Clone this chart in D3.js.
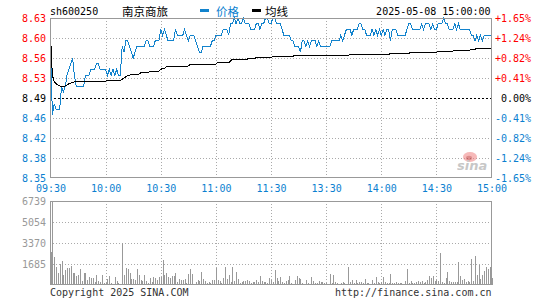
<!DOCTYPE html>
<html>
<head>
<meta charset="utf-8">
<script src="https://cdn.jsdelivr.net/npm/d3@7"></script>
<style>
body{margin:0;background:#fff}
svg{display:block}
</style>
</head>
<body>
<svg id="chart"></svg>
<script>
const stockCode = "sh600250";
const stockName = "南京商旅";
const dateTime = "2025-05-08 15:00:00";
const legendNames = ["价格", "均线"];

const timeLabels = ["09:30","10:00","10:30","11:00","11:30","13:30","14:00","14:30","15:00"];
const timeIndex = [0,30,60,90,120,150,180,210,240];
const priceLevels = [8.63,8.595,8.56,8.525,8.49,8.455,8.42,8.385,8.35];
const priceTicks = ["8.63","8.60","8.56","8.53","8.49","8.46","8.42","8.38","8.35"];
const pctTicks = ["+1.65%","+1.24%","+0.82%","+0.41%","0.00%","-0.41%","-0.82%","-1.24%","-1.65%"];
const volLevels = [6739,5054,3370,1685];
const volTicks = ["6739","5054","3370","1685"];

// one value per minute, 09:30-11:30 then 13:01-15:00
const prices = [
 8.60,8.46,8.48,8.47,8.47,8.47,8.51,8.50,8.51,8.53,
 8.54,8.55,8.56,8.53,8.51,8.51,8.51,8.51,8.51,8.53,
 8.53,8.53,8.54,8.54,8.54,8.55,8.55,8.54,8.54,8.54,
 8.54,8.53,8.54,8.53,8.54,8.53,8.54,8.53,8.53,8.58,
 8.57,8.59,8.59,8.58,8.57,8.56,8.57,8.58,8.58,8.58,
 8.58,8.58,8.59,8.59,8.58,8.58,8.58,8.59,8.59,8.59,
 8.61,8.60,8.61,8.60,8.59,8.59,8.59,8.59,8.61,8.60,
 8.60,8.60,8.60,8.61,8.60,8.59,8.60,8.60,8.60,8.59,
 8.58,8.57,8.57,8.58,8.58,8.58,8.58,8.58,8.59,8.59,
 8.60,8.60,8.60,8.60,8.61,8.61,8.61,8.60,8.62,8.62,
 8.63,8.62,8.63,8.62,8.62,8.63,8.62,8.62,8.62,8.61,
 8.61,8.61,8.62,8.62,8.61,8.62,8.62,8.63,8.63,8.62,
 8.62,8.63,8.63,8.62,8.62,8.62,8.61,8.60,8.60,8.60,
 8.60,8.59,8.59,8.58,8.58,8.58,8.57,8.59,8.59,8.58,
 8.59,8.58,8.59,8.59,8.59,8.58,8.59,8.58,8.58,8.58,
 8.58,8.58,8.58,8.59,8.59,8.59,8.59,8.59,8.60,8.59,
 8.60,8.61,8.61,8.61,8.60,8.61,8.61,8.61,8.62,8.62,
 8.61,8.61,8.60,8.60,8.60,8.61,8.60,8.61,8.60,8.61,
 8.60,8.61,8.60,8.61,8.61,8.59,8.61,8.61,8.61,8.60,
 8.60,8.60,8.60,8.60,8.61,8.62,8.62,8.61,8.61,8.61,
 8.61,8.61,8.62,8.61,8.62,8.62,8.62,8.61,8.62,8.61,
 8.61,8.62,8.62,8.62,8.63,8.62,8.62,8.61,8.61,8.61,
 8.62,8.61,8.62,8.61,8.61,8.61,8.61,8.61,8.61,8.60,
 8.60,8.59,8.60,8.59,8.60,8.59,8.60,8.60,8.60,8.60,
 8.60
];

const avgPrices = [
 8.600,8.530,8.519,8.515,8.513,8.511,8.510,8.510,8.511,8.513,
 8.515,8.516,8.517,8.518,8.519,8.519,8.519,8.519,8.519,8.519,
 8.519,8.519,8.519,8.519,8.519,8.519,8.519,8.519,8.519,8.519,
 8.519,8.521,8.521,8.521,8.521,8.521,8.521,8.521,8.521,8.523,
 8.525,8.527,8.529,8.530,8.531,8.531,8.531,8.531,8.531,8.534,
 8.535,8.535,8.535,8.535,8.536,8.536,8.536,8.536,8.536,8.537,
 8.540,8.542,8.542,8.545,8.545,8.545,8.545,8.545,8.546,8.546,
 8.546,8.546,8.546,8.546,8.546,8.546,8.549,8.549,8.549,8.549,
 8.549,8.549,8.549,8.549,8.549,8.549,8.549,8.549,8.549,8.549,
 8.549,8.552,8.552,8.552,8.552,8.552,8.552,8.552,8.555,8.558,
 8.558,8.558,8.558,8.558,8.558,8.558,8.558,8.558,8.559,8.559,
 8.559,8.559,8.561,8.561,8.561,8.561,8.561,8.561,8.561,8.561,
 8.561,8.563,8.563,8.563,8.563,8.563,8.563,8.563,8.563,8.563,
 8.563,8.563,8.563,8.565,8.565,8.565,8.565,8.565,8.565,8.565,
 8.565,8.565,8.565,8.565,8.565,8.565,8.565,8.565,8.565,8.565,
 8.565,8.565,8.565,8.565,8.565,8.565,8.565,8.565,8.565,8.565,
 8.565,8.565,8.565,8.566,8.566,8.566,8.566,8.566,8.566,8.566,
 8.566,8.566,8.566,8.566,8.566,8.566,8.566,8.566,8.566,8.566,
 8.566,8.566,8.566,8.566,8.566,8.568,8.568,8.568,8.568,8.568,
 8.568,8.568,8.568,8.568,8.568,8.568,8.570,8.570,8.570,8.570,
 8.570,8.570,8.570,8.570,8.570,8.570,8.570,8.570,8.570,8.570,
 8.570,8.572,8.572,8.572,8.572,8.572,8.572,8.572,8.572,8.572,
 8.573,8.573,8.573,8.573,8.573,8.573,8.573,8.573,8.573,8.575,
 8.575,8.575,8.577,8.577,8.577,8.577,8.577,8.577,8.577,8.577,
 8.577
];

const volumes = [
 2670,6739,2250,1440,960,1685,1950,830,1230,1360,
 1360,1520,960,960,700,830,1310,350,960,960,
 430,670,560,560,240,780,300,240,830,140,
 160,480,700,140,100,640,300,160,100,3370,
 830,1360,1280,960,480,480,430,1280,830,400,
 300,830,300,160,560,240,640,560,430,640,
 610,2030,830,960,640,560,750,750,960,240,
 480,430,430,510,160,880,1280,880,100,240,
 400,350,1040,480,300,160,240,160,430,430,
 1360,430,300,160,560,1470,480,830,240,1470,
 300,1040,480,160,240,350,300,430,350,160,
 240,240,430,240,700,350,240,240,160,560,
 430,240,1230,560,300,640,240,140,300,430,
 700,140,100,400,700,560,510,140,100,430,
 140,100,640,300,160,160,300,240,240,160,
 140,100,880,140,830,240,140,100,140,240,
 140,100,1470,240,430,160,430,140,240,240,
 160,480,140,140,100,430,160,670,240,160,
 240,610,240,140,160,880,160,160,240,160,
 140,160,100,300,1280,160,300,140,160,240,
 300,240,300,160,240,430,700,560,750,300,
 430,350,2570,240,160,560,1040,300,240,240,
 240,240,1840,750,430,480,240,300,240,2090,
 300,2300,830,1630,480,800,1120,1470,1300,1470,
 600
];

const W = 545, H = 300;
const mono = "'DejaVu Sans Mono', monospace";
const cjk = "'Noto Sans CJK SC', sans-serif";
const blue = "#0b7fd0", lineBlue = "#1283cd", red = "#ff0000", gridC = "#aaa", borderC = "#999";

const svg = d3.select("#chart").attr("width", W).attr("height", H);

const x = d3.scaleLinear().domain([0, 240]).range([50.5, 491.5]);
const y = d3.scaleLinear().domain([8.35, 8.63]).range([178, 18]);
const yv = d3.scaleLinear().domain([0, 6739]).range([285, 201]);

const px = v => Math.round(v) + 0.5;

// ---- header
svg.append("text").attr("x", 50).attr("y", 15)
    .attr("font-family", mono).attr("font-size", 10).text(stockCode);
svg.append("text").attr("x", 122).attr("y", 16)
    .attr("font-family", cjk).attr("font-size", 11.5).text(stockName);
svg.append("rect").attr("x", 200).attr("y", 9).attr("width", 9).attr("height", 3).attr("fill", lineBlue);
svg.append("text").attr("x", 216).attr("y", 16)
    .attr("font-family", cjk).attr("font-size", 11.5).attr("fill", blue).text(legendNames[0]);
svg.append("rect").attr("x", 252).attr("y", 9).attr("width", 9).attr("height", 3).attr("fill", "#000");
svg.append("text").attr("x", 265).attr("y", 16)
    .attr("font-family", cjk).attr("font-size", 11.5).text(legendNames[1]);
svg.append("text").attr("x", 490.5).attr("y", 15).attr("text-anchor", "end")
    .attr("font-family", mono).attr("font-size", 10).text(dateTime);

// ---- grids
const grid = svg.append("g").attr("shape-rendering", "crispEdges");
const innerTimes = timeIndex.slice(1, -1);

grid.selectAll(".vgp").data(innerTimes).enter().append("line")
    .attr("x1", d => px(x(d))).attr("x2", d => px(x(d)))
    .attr("y1", 18).attr("y2", 178)
    .attr("stroke", gridC).attr("stroke-dasharray", "1,2");
grid.selectAll(".hgp").data(priceLevels.slice(1, -1)).enter().append("line")
    .attr("x1", 50).attr("x2", 492)
    .attr("y1", d => px(y(d))).attr("y2", d => px(y(d)))
    .attr("stroke", (d, i) => i === 3 ? "#000" : gridC)
    .attr("stroke-dasharray", (d, i) => i === 3 ? "2,2" : "1,2");

grid.selectAll(".vgv").data(innerTimes).enter().append("line")
    .attr("x1", d => px(x(d))).attr("x2", d => px(x(d)))
    .attr("y1", 201).attr("y2", 285)
    .attr("stroke", gridC).attr("stroke-dasharray", "1,2");
grid.selectAll(".hgv").data(volLevels.slice(1)).enter().append("line")
    .attr("x1", 50).attr("x2", 492)
    .attr("y1", d => px(yv(d))).attr("y2", d => px(yv(d)))
    .attr("stroke", gridC).attr("stroke-dasharray", "1,2");

// ---- sina watermark
const logo = svg.append("g").attr("opacity", 0.55);
logo.append("ellipse").attr("cx", 470).attr("cy", 157).attr("rx", 7).attr("ry", 5).attr("fill", "#f08080");
logo.append("ellipse").attr("cx", 469).attr("cy", 158).attr("rx", 3).attr("ry", 2.2).attr("fill", "#c03030");
logo.append("text").attr("x", 457).attr("y", 170)
    .attr("font-family", "'DejaVu Sans', sans-serif").attr("font-size", 13)
    .attr("font-style", "italic").attr("font-weight", "bold")
    .attr("fill", "#9a9a9a").text("sina");

// ---- volume bars
svg.append("g").attr("shape-rendering", "crispEdges")
  .selectAll("rect").data(volumes).enter().append("rect")
    .attr("x", (d, i) => Math.round(x(i)))
    .attr("width", (d, i) => i === 0 ? 2 : 1)
    .attr("y", d => Math.round(yv(d)))
    .attr("height", d => 285 - Math.round(yv(d)))
    .attr("fill", "#999");

// ---- price and average lines
const line = d3.line().x((d, i) => x(i)).y(d => y(d));
svg.append("path").datum(prices).attr("d", line)
    .attr("fill", "none").attr("stroke", lineBlue).attr("stroke-width", 1)
    .attr("shape-rendering", "crispEdges");
svg.append("path").datum(avgPrices).attr("d", line)
    .attr("fill", "none").attr("stroke", "#000").attr("stroke-width", 1)
    .attr("shape-rendering", "crispEdges");

// ---- borders
svg.append("rect").attr("x", 50.5).attr("y", 18.5).attr("width", 441).attr("height", 159)
    .attr("fill", "none").attr("stroke", borderC).attr("shape-rendering", "crispEdges");
svg.append("rect").attr("x", 50.5).attr("y", 201.5).attr("width", 441).attr("height", 83)
    .attr("fill", "none").attr("stroke", borderC).attr("shape-rendering", "crispEdges");

// ---- axes
function styleAxis(g, colorFn){
    g.select(".domain").remove();
    g.selectAll("text")
        .attr("font-family", mono).attr("font-size", 10)
        .attr("fill", colorFn);
}
const priceColor = (d, i) => i < 4 ? red : (i === 4 ? "#000" : blue);

svg.append("g").attr("transform", "translate(50,0)")
    .call(d3.axisLeft(y).tickValues(priceLevels).tickSize(0).tickPadding(4)
        .tickFormat((d, i) => priceTicks[i]))
    .call(g => styleAxis(g, priceColor));

svg.append("g").attr("transform", "translate(535,0)")
    .call(d3.axisLeft(y).tickValues(priceLevels).tickSize(0).tickPadding(4)
        .tickFormat((d, i) => pctTicks[i]))
    .call(g => styleAxis(g, priceColor));

svg.append("g").attr("transform", "translate(0,185)")
    .call(d3.axisBottom(x).tickValues(timeIndex).tickSize(0).tickPadding(0)
        .tickFormat((d, i) => timeLabels[i]))
    .call(g => styleAxis(g, blue));

svg.append("g").attr("transform", "translate(50,0)")
    .call(d3.axisLeft(yv).tickValues(volLevels).tickSize(0).tickPadding(4)
        .tickFormat((d, i) => volTicks[i]))
    .call(g => styleAxis(g, "#999"));

// ---- footer
svg.append("text").attr("x", 50).attr("y", 296)
    .attr("font-family", mono).attr("font-size", 10).attr("fill", "#333")
    .text("Copyright 2025 SINA.COM");
svg.append("text").attr("x", 491.5).attr("y", 296).attr("text-anchor", "end")
    .attr("font-family", mono).attr("font-size", 10).attr("fill", "#333")
    .text("http://finance.sina.com.cn");
</script>
</body>
</html>
